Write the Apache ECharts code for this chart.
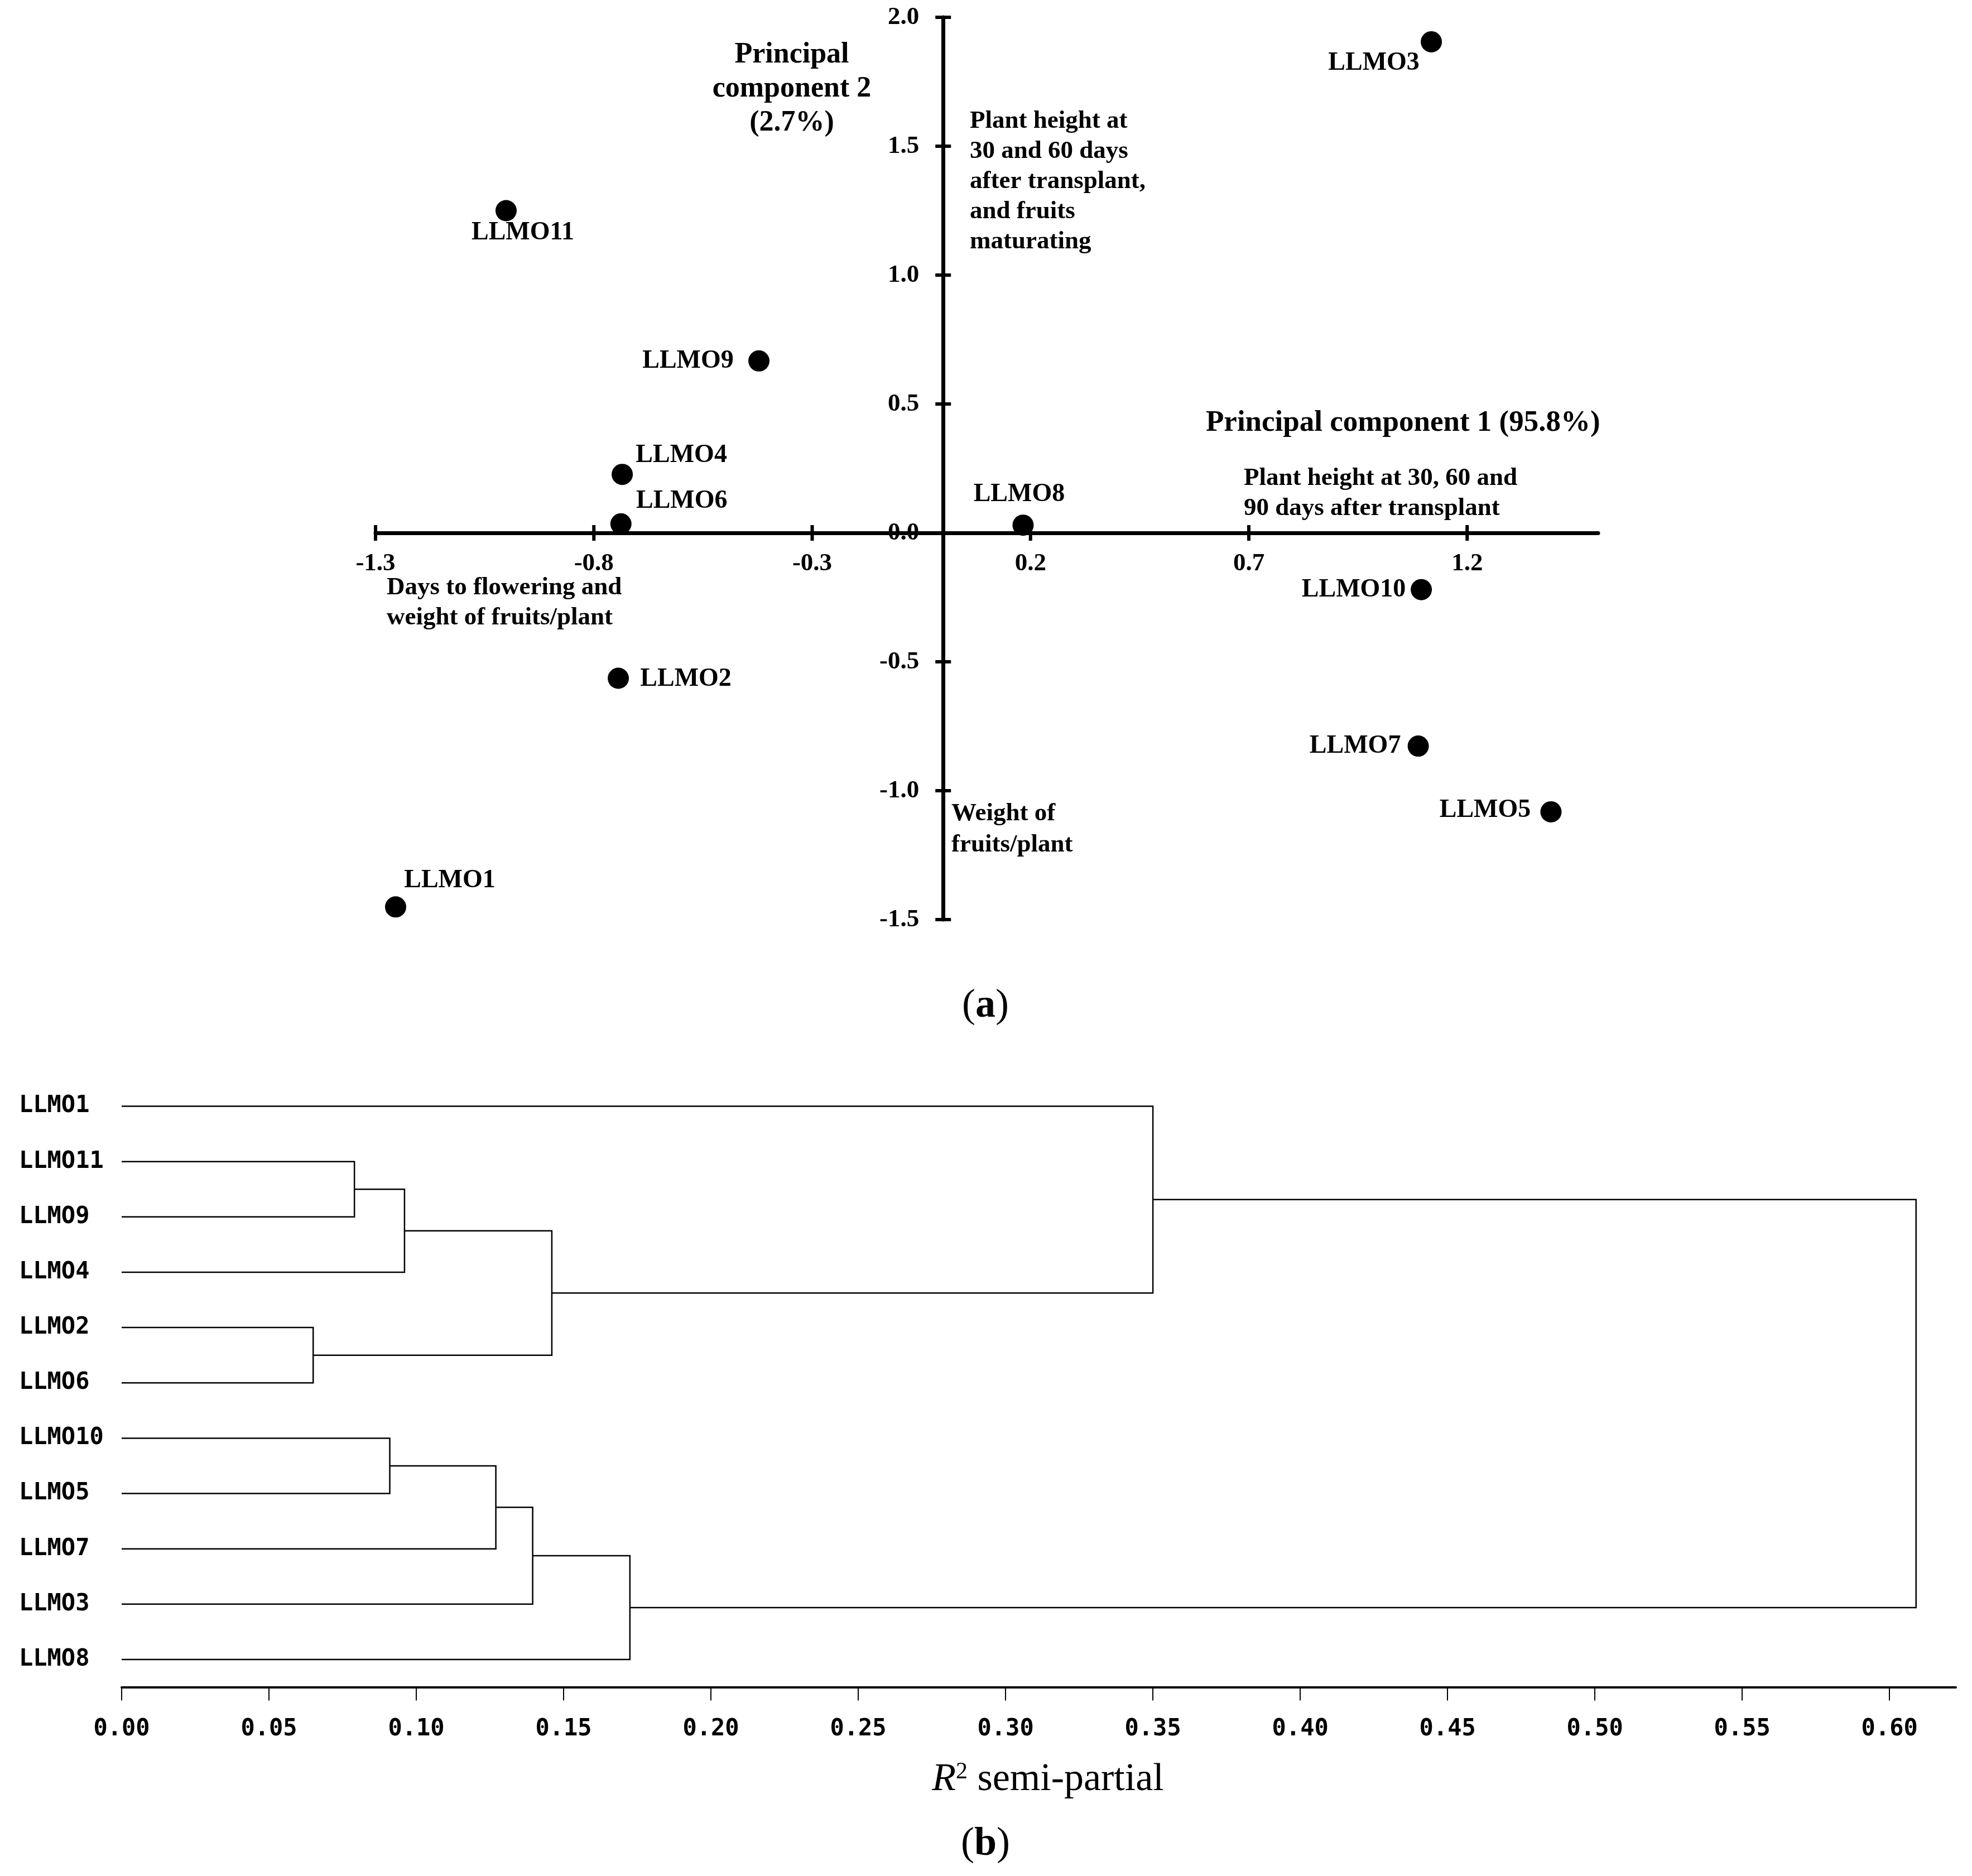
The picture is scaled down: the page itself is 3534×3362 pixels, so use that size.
<!DOCTYPE html>
<html><head><meta charset="utf-8">
<script src="https://cdn.jsdelivr.net/npm/echarts@6/dist/echarts.min.js"></script>
<style>html,body{margin:0;padding:0;background:#fff}#c{width:3534px;height:3362px}</style>
</head><body><div id="c"></div>
<script>
// ---------- Panel (a): PCA scores ----------
const genotypes = ['LLMO1','LLMO2','LLMO3','LLMO4','LLMO5','LLMO6','LLMO7','LLMO8','LLMO9','LLMO10','LLMO11'];
const pc1 = [-1.254, -0.744, 1.118, -0.735, 1.392, -0.738, 1.088, 0.183, -0.422, 1.095, -1.001];
const pc2 = [-1.451, -0.564, 1.905, 0.227, -1.082, 0.035, -0.827, 0.030, 0.667, -0.220, 1.250];
const pcXTicks = [-1.3, -0.8, -0.3, 0.2, 0.7, 1.2];
const pcYTicks = [-1.5, -1.0, -0.5, 0.0, 0.5, 1.0, 1.5, 2.0];

// ---------- Panel (b): dendrogram ----------
const leafOrder = ['LLMO1','LLMO11','LLMO9','LLMO4','LLMO2','LLMO6','LLMO10','LLMO5','LLMO7','LLMO3','LLMO8'];
const mergeA = ['LLMO11','m1','LLMO2','m2','LLMO1','LLMO10','m6','m7','m8','m5'];
const mergeB = ['LLMO9','LLMO4','LLMO6','m3','m4','LLMO5','LLMO7','LLMO3','LLMO8','m9'];
const mergeHeight = [0.079, 0.096, 0.065, 0.146, 0.350, 0.091, 0.127, 0.1395, 0.1725, 0.609];
const r2Ticks = [0, 0.05, 0.10, 0.15, 0.20, 0.25, 0.30, 0.35, 0.40, 0.45, 0.50, 0.55, 0.60];

// label placement (style only): offset of label centre from point centre
const labelOffset = {
  LLMO1: [97, -47], LLMO2: [121, 2], LLMO3: [-103, 38], LLMO4: [106, -34],
  LLMO5: [-118, -3], LLMO6: [109, -41], LLMO7: [-113, 0], LLMO8: [-7, -55],
  LLMO9: [-127, 0], LLMO10: [-121, 0], LLMO11: [30, 40]
};

const serif = 'Liberation Serif';
const mono = 'DejaVu Sans Mono';

// dendrogram layout
const nodePos = {};
leafOrder.forEach((n, i) => { nodePos[n] = { x: 0, y: i }; });
const dendroData = mergeHeight.map((h, i) => {
  const a = nodePos[mergeA[i]], b = nodePos[mergeB[i]];
  nodePos['m' + (i + 1)] = { x: h, y: (a.y + b.y) / 2 };
  return [h, a.x, a.y, b.x, b.y];
});

const scatterData = genotypes.map((g, i) => ({
  name: g, value: [pc1[i], pc2[i]],
  label: { offset: labelOffset[g] }
}));

const tickFont = { color: '#000', fontFamily: serif, fontWeight: 'bold', fontSize: 45 };

const chart = echarts.init(document.getElementById('c'));
chart.setOption({
  animation: false,
  backgroundColor: '#fff',
  grid: [
    { left: 673, top: 31, width: 2191, height: 1617 },
    { left: 218, top: 1933, width: 3287, height: 1090.5 }
  ],
  xAxis: [
    {
      gridIndex: 0, type: 'value', min: -1.3, max: 1.5,
      axisLine: { onZero: true, lineStyle: { color: '#000', width: 7 } },
      axisTick: { show: false }, splitLine: { show: false }, axisLabel: { show: false }
    },
    {
      gridIndex: 1, type: 'value', min: 0, max: 0.6225,
      axisLine: { onZero: false, lineStyle: { color: '#000', width: 4 } },
      axisTick: { customValues: r2Ticks, length: 24, lineStyle: { color: '#000', width: 2 } },
      splitLine: { show: false },
      axisLabel: {
        customValues: r2Ticks, formatter: v => v.toFixed(2),
        margin: 76, verticalAlign: 'middle',
        color: '#000', fontFamily: mono, fontWeight: 'bold', fontSize: 42
      }
    }
  ],
  yAxis: [
    {
      gridIndex: 0, type: 'value', min: -1.5, max: 2.0, interval: 0.5,
      axisLine: { onZero: true, lineStyle: { color: '#000', width: 7 } },
      axisTick: { show: false }, splitLine: { show: false }, axisLabel: { show: false }
    },
    {
      gridIndex: 1, type: 'value', min: -0.5, max: 10.5, inverse: true,
      axisLine: { show: false, onZero: false }, axisTick: { show: false }, splitLine: { show: false },
      axisLabel: {
        customValues: leafOrder.map((_, i) => i),
        formatter: v => leafOrder[Math.round(v)],
        align: 'left', margin: 184, padding: [22, 0, 0, 0],
        color: '#000', fontFamily: mono, fontWeight: 'bold', fontSize: 42
      }
    }
  ],
  series: [
    {
      // x-axis ticks and their labels, placed on the zero line
      type: 'scatter', xAxisIndex: 0, yAxisIndex: 0, silent: true,
      symbol: 'rect', symbolSize: [6, 28], itemStyle: { color: '#000', opacity: 1 },
      label: Object.assign({ show: true, position: 'inside', offset: [0, 55], align: 'center', verticalAlign: 'middle',
        formatter: p => p.value[0].toFixed(1) }, tickFont),
      data: pcXTicks.map(v => [v, 0]), z: 3
    },
    {
      // y-axis ticks and their labels, placed on the zero line
      type: 'scatter', xAxisIndex: 0, yAxisIndex: 0, silent: true,
      symbol: 'rect', symbolSize: [28, 6], itemStyle: { color: '#000', opacity: 1 },
      label: Object.assign({ show: true, position: 'inside', offset: [-43, 0], align: 'right', verticalAlign: 'middle',
        formatter: p => p.value[1].toFixed(1) }, tickFont),
      data: pcYTicks.map(v => [0, v]), z: 3
    },
    {
      type: 'scatter', xAxisIndex: 0, yAxisIndex: 0, silent: true,
      symbol: 'circle', symbolSize: 38, itemStyle: { color: '#000', opacity: 1 },
      label: {
        show: true, position: 'inside', formatter: p => p.name, align: 'center', verticalAlign: 'middle',
        color: '#000', fontFamily: serif, fontWeight: 'bold', fontSize: 46
      },
      data: scatterData, z: 4
    },
    {
      type: 'custom', xAxisIndex: 1, yAxisIndex: 1, silent: true,
      data: dendroData,
      renderItem: (params, api) => {
        const h = api.value(0), ax = api.value(1), ay = api.value(2), bx = api.value(3), by = api.value(4);
        const pts = [[ax, ay], [h, ay], [h, by], [bx, by]].map(d => api.coord(d));
        return { type: 'polyline', shape: { points: pts }, style: { stroke: '#000', lineWidth: 2.5, fill: null } };
      }
    }
  ],
  graphic: [
    { type: 'text', x: 1419, y: 160, style: { text: 'Principal\ncomponent 2\n(2.7%)', align: 'center', verticalAlign: 'middle', lineHeight: 61, fontFamily: serif, fontWeight: 'bold', fontSize: 52, fill: '#000' } },
    { type: 'text', x: 1738, y: 325, style: { text: 'Plant height at\n30 and 60 days\nafter transplant,\nand fruits\nmaturating', align: 'left', verticalAlign: 'middle', lineHeight: 54, fontFamily: serif, fontWeight: 'bold', fontSize: 45, fill: '#000' } },
    { type: 'text', x: 2161, y: 758, style: { text: 'Principal component 1 (95.8%)', align: 'left', verticalAlign: 'middle', fontFamily: serif, fontWeight: 'bold', fontSize: 53, fill: '#000' } },
    { type: 'text', x: 2229, y: 884, style: { text: 'Plant height at 30, 60 and\n90 days after transplant', align: 'left', verticalAlign: 'middle', lineHeight: 54, fontFamily: serif, fontWeight: 'bold', fontSize: 45, fill: '#000' } },
    { type: 'text', x: 693, y: 1080, style: { text: 'Days to flowering and\nweight of fruits/plant', align: 'left', verticalAlign: 'middle', lineHeight: 54, fontFamily: serif, fontWeight: 'bold', fontSize: 45, fill: '#000' } },
    { type: 'text', x: 1705, y: 1486, style: { text: 'Weight of\nfruits/plant', align: 'left', verticalAlign: 'middle', lineHeight: 56, fontFamily: serif, fontWeight: 'bold', fontSize: 45, fill: '#000' } },
    { type: 'text', x: 1766, y: 1803, style: { text: '{p|(}{b|a}{p|)}', align: 'center', verticalAlign: 'middle', rich: { p: { fontFamily: serif, fontSize: 72, fill: '#000' }, b: { fontFamily: serif, fontSize: 72, fontWeight: 'bold', fill: '#000' } } } },
    { type: 'text', x: 1878, y: 3190, style: { text: '{i|R}{s|2}{n| semi-partial}', align: 'center', verticalAlign: 'middle', rich: { i: { fontFamily: serif, fontStyle: 'italic', fontSize: 70, fill: '#000' }, s: { fontFamily: serif, fontSize: 42, verticalAlign: 'top', fill: '#000' }, n: { fontFamily: serif, fontSize: 70, fill: '#000' } } } },
    { type: 'text', x: 1766, y: 3305, style: { text: '{p|(}{b|b}{p|)}', align: 'center', verticalAlign: 'middle', rich: { p: { fontFamily: serif, fontSize: 72, fill: '#000' }, b: { fontFamily: serif, fontSize: 72, fontWeight: 'bold', fill: '#000' } } } }
  ]
});
</script></body></html>
